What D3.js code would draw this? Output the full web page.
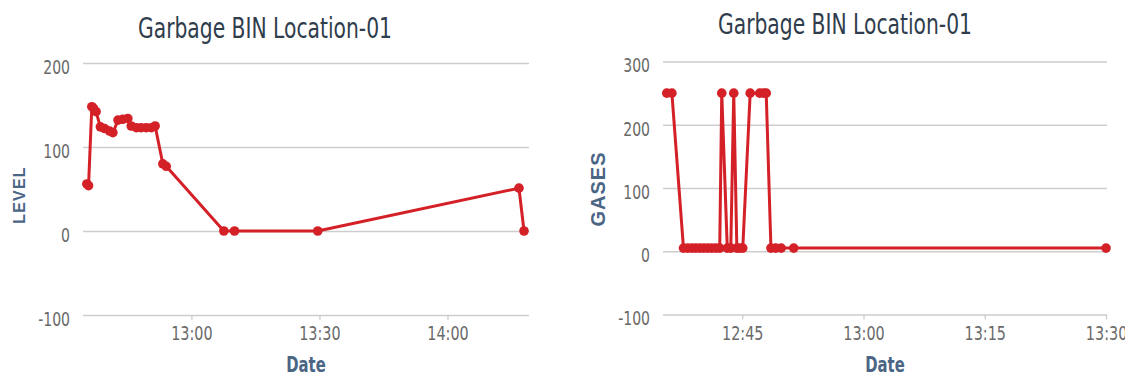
<!DOCTYPE html>
<html>
<head>
<meta charset="utf-8">
<script src="https://cdn.jsdelivr.net/npm/d3@7"></script>
<style>
  html, body { margin: 0; padding: 0; background: #fff; overflow: hidden; }
  svg { display: block; }
</style>
</head>
<body>
<svg id="chart" width="1125" height="376"></svg>
<script>
// ---------------- data ----------------
const chartTitle = "Garbage BIN Location-01";
const xTitle = "Date";

// Left chart: LEVEL
const levelTimes = ["12:35:30","12:35:54","12:36:40","12:37:05","12:37:40","12:38:40","12:39:40",
  "12:40:50","12:41:36","12:42:48","12:43:54","12:45:06","12:45:54","12:47:06","12:48:12",
  "12:49:24","12:50:36","12:51:30","12:53:18","12:54:06","13:07:36","13:10:06","13:29:36",
  "14:16:45","14:17:56"];
const levelValues = [56, 54, 148, 146, 142, 124, 122, 119, 117, 132, 133, 134, 125, 123, 123,
  123, 123, 125, 80, 77, 0, 0, 0, 51, 0];
const levelXDomain = ["12:34:36", "14:19:06"];
const levelXTicks = ["13:00:00", "13:30:00", "14:00:00"];
const levelYTicks = [-100, 0, 100, 200];
const levelYDomain = [-100, 200];

// Right chart: GASES
const gasTimes = ["12:35:40","12:36:18","12:37:44","12:38:15","12:38:46","12:39:15","12:39:45",
  "12:40:14","12:40:44","12:41:14","12:41:44","12:42:13","12:42:28","12:43:09","12:43:35",
  "12:43:57","12:44:20","12:44:41","12:45:04","12:45:59","12:47:10","12:47:38","12:47:58",
  "12:48:33","12:49:08","12:49:49","12:51:22","13:30:00"];
const gasValues = [250, 250, 5, 5, 5, 5, 5, 5, 5, 5, 5, 5, 250, 5, 5, 250, 5, 5, 5, 250, 250,
  250, 250, 5, 5, 5, 5, 5];
const gasXDomain = ["12:35:12", "13:30:07"];
const gasXTicks = ["12:45:00", "13:00:00", "13:15:00", "13:30:00"];
const gasYTicks = [-100, 0, 100, 200, 300];
const gasYDomain = [-100, 300];

// ---------------- drawing ----------------
const parse = d3.timeParse("%Y-%m-%d %H:%M:%S");
const toDate = s => parse("2020-01-01 " + s);
const lineColor = "#d42027";
const gridColor = "#cdcdcd";
const titleColor = "#2f3d4c";
const axisTitleColor = "#4b6585";
const tickColor = "#6a6a6a";
const narrow = "'Liberation Sans Narrow', 'DejaVu Sans Condensed', 'Liberation Sans', sans-serif";

const svg = d3.select("#chart");

// squeeze a text horizontally to a fraction of its natural width
function squeeze(sel, k) {
  sel.each(function () {
    const w = this.getComputedTextLength();
    d3.select(this).attr("textLength", w * k).attr("lengthAdjust", "spacingAndGlyphs");
  });
}

function drawChart(cfg) {
  const g = svg.append("g");
  const x = d3.scaleTime().domain(cfg.xDomain.map(toDate)).range([cfg.left, cfg.right]);
  const y = d3.scaleLinear().domain(cfg.yDomain).range([cfg.bottom, cfg.top]);

  // title
  g.append("text")
    .attr("x", cfg.titleX).attr("y", cfg.titleY)
    .attr("text-anchor", "middle")
    .attr("font-family", narrow)
    .attr("font-size", 29)
    .attr("fill", titleColor)
    .attr("textLength", 254).attr("lengthAdjust", "spacingAndGlyphs")
    .text(chartTitle);

  // y grid + labels
  const yAxis = d3.axisLeft(y).tickValues(cfg.yTicks)
    .tickSize(-(cfg.right - cfg.left)).tickPadding(13).tickFormat(d => String(d));
  const gy = g.append("g").attr("transform", `translate(${cfg.left},0)`).call(yAxis);
  gy.select(".domain").remove();
  gy.selectAll(".tick line").attr("stroke", gridColor).attr("stroke-width", 1.3);
  gy.selectAll(".tick text")
    .attr("font-family", narrow).attr("font-size", 20).attr("fill", tickColor)
    .attr("dy", "0.52em")
    .call(squeeze, 0.78);

  // x axis ticks + labels
  const xAxis = d3.axisBottom(x).tickValues(cfg.xTicks.map(toDate))
    .tickSize(5).tickFormat(d3.timeFormat("%H:%M"));
  const gx = g.append("g").attr("transform", `translate(0,${cfg.bottom})`).call(xAxis);
  gx.select(".domain").remove();
  gx.selectAll(".tick line").attr("stroke", gridColor).attr("stroke-width", 1.3);
  gx.selectAll(".tick text")
    .attr("font-family", narrow).attr("font-size", 20).attr("fill", tickColor)
    .attr("dy", null).attr("y", 25)
    .call(squeeze, 0.8);

  // axis titles
  g.append("text")
    .attr("x", (cfg.left + cfg.right) / 2).attr("y", cfg.bottom + 57)
    .attr("text-anchor", "middle")
    .attr("font-family", narrow).attr("font-weight", "bold").attr("font-size", 22)
    .attr("fill", axisTitleColor).text(xTitle)
    .call(squeeze, 0.75);
  g.append("text")
    .attr("transform", `translate(${cfg.yTitleX},${cfg.yTitleY}) rotate(-90)`)
    .attr("text-anchor", "middle")
    .attr("font-family", "'Liberation Sans', 'DejaVu Sans', sans-serif")
    .attr("font-weight", "bold").attr("font-size", cfg.yTitleSize)
    .attr("letter-spacing", cfg.yTitleSpacing)
    .attr("fill", axisTitleColor).text(cfg.yTitle);

  // data
  const pts = cfg.times.map((t, i) => ({ t: toDate(t), v: cfg.values[i] }));
  const line = d3.line().x(d => x(d.t)).y(d => y(d.v));
  g.append("path").datum(pts)
    .attr("fill", "none").attr("stroke", lineColor)
    .attr("stroke-width", 3).attr("stroke-linejoin", "round")
    .attr("d", line);
  g.selectAll("circle.pt").data(pts).enter().append("circle")
    .attr("class", "pt")
    .attr("cx", d => x(d.t)).attr("cy", d => y(d.v)).attr("r", 4.8)
    .attr("fill", lineColor);
}

drawChart({
  left: 83, right: 529, top: 63, bottom: 315,
  xDomain: levelXDomain, yDomain: levelYDomain,
  xTicks: levelXTicks, yTicks: levelYTicks,
  times: levelTimes, values: levelValues,
  titleX: 265, titleY: 38,
  yTitle: "LEVEL", yTitleX: 25, yTitleY: 195, yTitleSize: 16, yTitleSpacing: 1.2
});

drawChart({
  left: 663, right: 1107, top: 61.5, bottom: 314.5,
  xDomain: gasXDomain, yDomain: gasYDomain,
  xTicks: gasXTicks, yTicks: gasYTicks,
  times: gasTimes, values: gasValues,
  titleX: 845, titleY: 34,
  yTitle: "GASES", yTitleX: 605, yTitleY: 189, yTitleSize: 20, yTitleSpacing: 1
});
</script>
</body>
</html>
